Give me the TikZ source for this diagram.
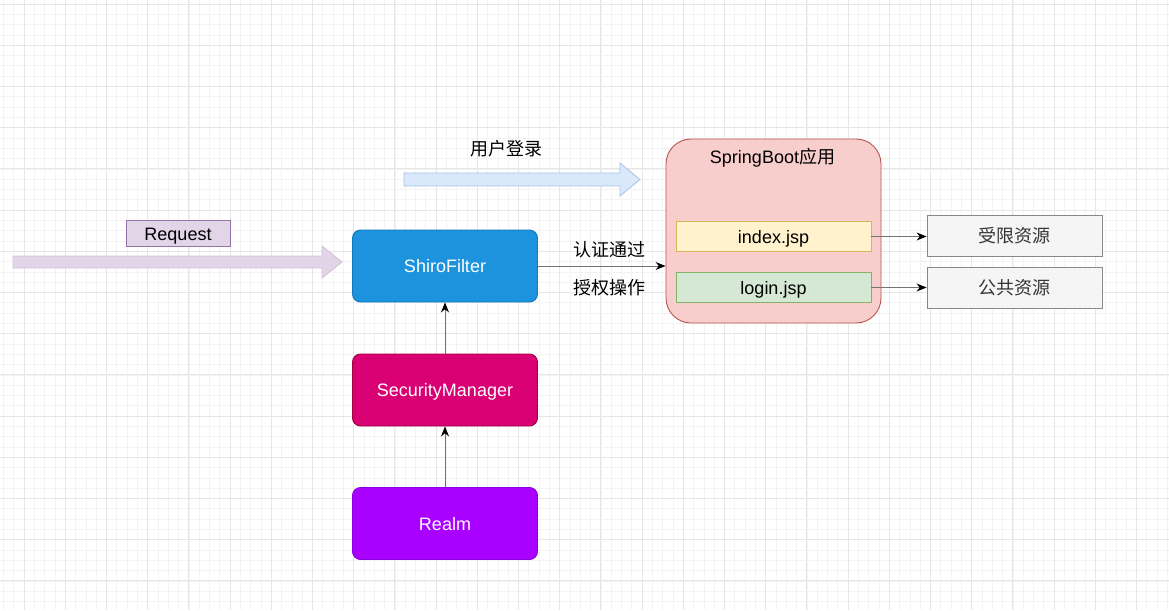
\documentclass[tikz,border=0pt]{standalone}
\usepackage{fontspec}
\setmainfont{Liberation Sans}
\newfontfamily\cjk{Noto Sans CJK SC}
\usetikzlibrary{arrows.meta}
\definecolor{gridminor}{HTML}{F3F3F3}
\definecolor{gridmajor}{HTML}{E6E6E6}
\definecolor{sfFill}{HTML}{1C93DC}
\definecolor{sfDraw}{HTML}{0F79BC}
\definecolor{smFill}{HTML}{D80073}
\definecolor{smDraw}{HTML}{A50040}
\definecolor{rlFill}{HTML}{AA00FF}
\definecolor{rlDraw}{HTML}{8800DD}
\definecolor{sbFill}{HTML}{F8CECC}
\definecolor{sbDraw}{HTML}{B85450}
\definecolor{rqFill}{HTML}{E1D5E7}
\definecolor{rqDraw}{HTML}{9673A6}
\definecolor{ulFill}{HTML}{DAE8FC}
\definecolor{ulDraw}{HTML}{A9C4E8}
\definecolor{ixFill}{HTML}{FFF2CC}
\definecolor{ixDraw}{HTML}{D6B656}
\definecolor{lgFill}{HTML}{D5E8D4}
\definecolor{lgDraw}{HTML}{82B366}
\definecolor{resFill}{HTML}{F5F5F5}
\definecolor{resDraw}{HTML}{888888}
\tikzset{
  txt/.style={font=\fontsize{18}{21}\selectfont, inner sep=0pt, text height=14pt, text depth=1pt},
  mainbox/.style={draw, line width=0.9pt, rounded corners=8pt, minimum width=185pt, minimum height=72pt, text=white, txt},
  inbox/.style={draw, line width=0.9pt, minimum width=195pt, minimum height=30pt, txt},
  resbox/.style={draw=resDraw, fill=resFill, line width=0.9pt, minimum width=175pt, minimum height=41pt, txt, text=black!80},
  conn/.style={draw=black!55, line width=0.8pt, -{Stealth[length=10pt,width=8pt,color=black]}},
}
\begin{document}
\begin{tikzpicture}[x=1pt,y=-1pt]
\useasboundingbox (0,0) rectangle (1169,610);
\fill[white] (0,0) rectangle (1169,610);
% grid
\foreach \i in {-3,...,114} \draw[gridminor, line width=0.6pt] ({24+10.3*\i},0) -- ({24+10.3*\i},610);
\foreach \i in {0,...,60} \draw[gridminor, line width=0.6pt] (0,{4+10.3*\i}) -- (1169,{4+10.3*\i});
\foreach \i in {-1,...,28} \draw[gridmajor, line width=0.8pt] ({24+41.2*\i},0) -- ({24+41.2*\i},610);
\foreach \i in {0,...,15} \draw[gridmajor, line width=0.8pt] (0,{4+41.2*\i}) -- (1169,{4+41.2*\i});

% block arrows
\draw[fill=rqFill, draw=rqFill!80!rqDraw, line width=0.8pt]
  (13,256) -- (322,256) -- (322,246) -- (342,262) -- (322,278) -- (322,268) -- (13,268) -- cycle;
\draw[fill=ulFill, draw=ulDraw, line width=0.8pt]
  (404,173) -- (620,173) -- (620,163) -- (640,179.5) -- (620,196) -- (620,186) -- (404,186) -- cycle;

% labels
\node[draw=rqDraw, fill=rqFill, line width=0.9pt, minimum width=104pt, minimum height=26pt, txt] (req) at (178,233.5) {Request};
\node[txt] (login) at (506,149) {\cjk 用户登录};

% main column
\node[mainbox, fill=sfFill, draw=sfDraw] (sf) at (445,266) {ShiroFilter};
\node[mainbox, fill=smFill, draw=smDraw] (sm) at (445,390) {SecurityManager};
\node[mainbox, fill=rlFill, draw=rlDraw] (rl) at (445,523.5) {Realm};

% springboot
\node[draw=sbDraw, fill=sbFill, line width=0.9pt, rounded corners=25pt, minimum width=215pt, minimum height=184pt] (sb) at (773.5,231) {};
\node[txt, anchor=center] (sbt) at (772.5,157) {SpringBoot\cjk 应用};
\node[inbox, fill=ixFill, draw=ixDraw] (ix) at (773.5,236.5) {index.jsp};
\node[inbox, fill=lgFill, draw=lgDraw] (lg) at (773.5,287.5) {login.jsp};

% resources
\node[resbox] (r1) at (1014.5,236) {\cjk 受限资源};
\node[resbox] (r2) at (1014.5,287.5) {\cjk 公共资源};

% text labels
\node[txt] (t1) at (609,250) {\cjk 认证通过};
\node[txt] (t2) at (609,288) {\cjk 授权操作};

% connectors
\draw[conn] (rl.north) -- (sm.south);
\draw[conn] (sm.north) -- (sf.south);
\draw[conn] (sf.east) -- (sb.west |- sf.east);
\draw[conn] (ix.east) -- (r1.west |- ix.east);
\draw[conn] (lg.east) -- (r2.west |- lg.east);
\end{tikzpicture}
\end{document}
